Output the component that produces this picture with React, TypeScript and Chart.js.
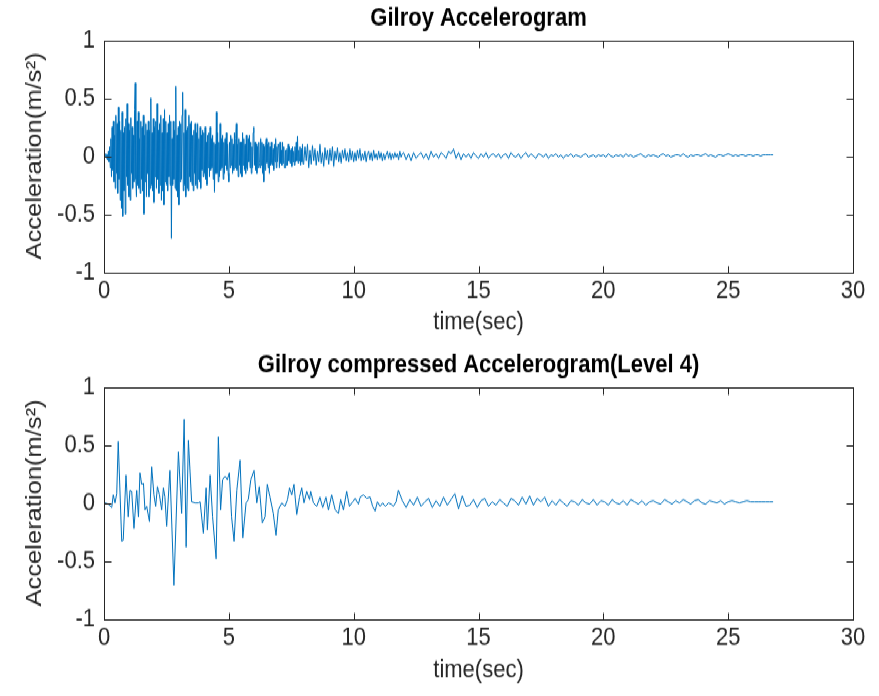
import React, { useEffect, useRef } from "react";
import { Chart, registerables } from "chart.js";

Chart.register(...registerables);

// ---------- text ----------
const TITLE_TOP = "Gilroy Accelerogram";
const TITLE_BOTTOM = "Gilroy compressed Accelerogram(Level 4)";
const X_LABEL = "time(sec)";
const Y_LABEL = "Acceleration(m/s²)";

// ---------- ticks ----------
const X_TICKS = [0, 5, 10, 15, 20, 25, 30];
const Y_TICKS = [-1, -0.5, 0, 0.5, 1];

// ---------- top series (original accelerogram) ----------
const TOP_HEAD_START = 0;
const TOP_HEAD_STEP = 0.025;
const TOP_HEAD_VALUES = [
  0.0, 0.01, -0.01, 0.02, -0.02, 0.01, -0.03, 0.04, -0.05, 0.08,
  -0.1, 0.15, -0.18, 0.25, -0.12, 0.3, -0.22, 0.18, -0.28, 0.35,
  -0.15, 0.28, -0.32, 0.42, -0.2, 0.3, -0.38, 0.22, -0.45, 0.38,
  -0.52, 0.2, -0.3, 0.25, -0.5, 0.32, -0.18, 0.45, -0.25, 0.28,
  -0.35, 0.22, -0.38, 0.33, -0.15, 0.25, -0.28, 0.18, -0.22, 0.4,
  0.63, -0.2, -0.35, 0.3, -0.25, 0.38, -0.28, 0.15, -0.32, 0.3,
  -0.2, 0.25, -0.3, 0.35, -0.5, 0.18, -0.22, 0.28, -0.35, 0.22,
  -0.15, 0.3, -0.35, 0.22, -0.28, 0.5, -0.25, 0.2, -0.3, 0.32,
  -0.4, 0.25, -0.18, 0.3, -0.28, 0.45, -0.2, 0.22, -0.32, 0.28,
  -0.25, 0.35, -0.38, 0.2, -0.3, 0.32, -0.42, 0.4, -0.22, 0.3,
  -0.25, 0.2, -0.3, 0.28, -0.18, 0.35, -0.25, 0.3, -0.71, 0.15,
  -0.25, 0.3, -0.2, 0.22, -0.28, 0.6, -0.3, 0.18, -0.35, 0.25,
  -0.42, 0.3, -0.22, 0.28, -0.2, 0.35, 0.55, -0.3, 0.2, -0.25,
  0.4, -0.35, 0.22, -0.28, 0.25, -0.3, 0.35, -0.18, 0.28, -0.22,
  0.3, -0.25, 0.18, -0.3, 0.22, -0.15, 0.28, -0.25, 0.2, -0.28,
  0.28, -0.2, 0.15, -0.22, 0.25, -0.28, 0.18, -0.12, 0.22, -0.18,
  0.2, -0.15, 0.25, -0.2, 0.12, -0.25, 0.18, -0.1, 0.2, -0.18,
  0.25, -0.12, 0.15, -0.1, 0.18, -0.2, 0.12, -0.31, 0.1, -0.15,
  0.38, -0.15, 0.2, -0.22, 0.12, -0.18, 0.28, -0.12, 0.15, -0.1,
  0.18, -0.2, 0.12, -0.15, 0.15, -0.08, 0.2, -0.12, 0.1, -0.15,
  -0.22, 0.12, -0.1, 0.18, -0.08, 0.15, -0.15, 0.1, -0.12, 0.2,
  -0.1, 0.15, 0.28, -0.12, 0.1, -0.18, 0.15, -0.08, 0.12, -0.15,
  0.12, -0.18, 0.2, -0.08, 0.15, -0.12, 0.1, -0.15, 0.18, -0.1,
  -0.12, 0.15, -0.05, 0.18, -0.1, 0.12, -0.15, 0.08, -0.1, 0.2,
  0.25, -0.08, 0.12, -0.12, 0.1, -0.15, 0.08, -0.1, 0.12, -0.06,
  -0.1, 0.15, -0.08, 0.12, -0.15, 0.1, -0.22, 0.08, -0.12, 0.1,
  0.15, -0.06, 0.1, -0.1, 0.12, -0.15, 0.08, -0.08, 0.12, -0.06,
  -0.08, 0.06, -0.12, 0.1, -0.05, 0.15, -0.1, 0.08, -0.05, 0.1,
  0.08, -0.1, 0.12, -0.06, 0.05, -0.08, 0.12, -0.06, 0.08, -0.1,
  -0.1, 0.05, -0.08, 0.06, -0.08, 0.1, -0.04, 0.08, -0.06, 0.05,
  0.06, -0.09, 0.08, -0.05, 0.04, -0.08, 0.08, -0.05, 0.12, -0.04,
  0.17, -0.06, 0.05, -0.04, 0.08, -0.08, 0.06, -0.05, 0.1, -0.07,
];
const TOP_MID_START = 8;
const TOP_MID_STEP = 0.05;
const TOP_MID_VALUES = [
  -0.06, 0.08, -0.04, 0.1, -0.1, 0.05, -0.07, 0.09, -0.04, 0.06,
  -0.08, 0.04, -0.05, 0.1, -0.06, 0.03, -0.09, 0.07, -0.03, 0.05,
  -0.07, 0.06, -0.04, 0.08, -0.09, 0.04, -0.03, 0.07, -0.05, 0.03,
  -0.06, 0.05, -0.02, 0.06, -0.04, 0.03, -0.05, 0.06, -0.03, 0.04,
  -0.05, 0.03, -0.04, 0.05, -0.02, 0.06, -0.04, 0.02, -0.03, 0.04,
  -0.05, 0.02, 0.04, -0.03, 0.03, -0.04, 0.05, -0.02, 0.02, -0.03,
  0.04, -0.02, 0.03, -0.04, 0.02, -0.03, 0.01, 0.04, -0.02, 0.03,
  -0.03, 0.02, -0.02, 0.03, -0.01, 0.02, -0.03, 0.04, -0.01, 0.02,
];
const TOP_TAIL_START = 12;
const TOP_TAIL_STEP = 0.1;
const TOP_TAIL_VALUES = [
  0.03, -0.03, 0.02, -0.04, 0.03, -0.02, 0.01, 0.03, -0.02, 0.02,
  -0.03, 0.04, -0.01, 0.02, -0.02, 0.03, 0.01, -0.02, 0.04, 0.02,
  0.06, -0.02, 0.03, -0.03, 0.02, -0.01, 0.02, -0.02, 0.03, 0.0,
  -0.02, 0.02, -0.01, 0.03, -0.02, 0.01, 0.02, -0.01, 0.02, -0.02,
  0.01, 0.02, -0.02, 0.03, 0.0, -0.01, 0.02, -0.02, 0.01, 0.03,
  -0.01, 0.02, 0.0, -0.02, 0.02, 0.01, -0.01, 0.02, -0.02, 0.01,
  0.0, 0.02, -0.01, 0.01, -0.02, 0.01, 0.0, 0.02, -0.01, 0.01,
  0.0, -0.01, 0.01, 0.02, -0.01, 0.0, 0.01, -0.01, 0.01, 0.0,
  0.01, -0.01, 0.02, 0.0, -0.01, 0.01, 0.0, 0.01, -0.01, 0.02,
  0.0, 0.01, -0.01, 0.0, 0.01, 0.02, 0.0, -0.01, 0.01, 0.0,
  0.01, 0.0, -0.01, 0.01, 0.02, 0.0, 0.01, -0.01, 0.0, 0.01,
  0.01, 0.0, 0.02, 0.0, -0.01, 0.01, 0.0, 0.01, 0.01, 0.0,
  0.01, 0.02, 0.0, 0.01, 0.0, -0.01, 0.01, 0.01, 0.0, 0.01,
  0.02, 0.01, 0.0, 0.01, 0.0, 0.01, 0.01, 0.0, 0.01, 0.01,
  0.0, 0.01, 0.01, 0.0, 0.01, 0.01, 0.01, 0.01, 0.01,
];

// ---------- bottom series (compressed, level 4) ----------
const BOTTOM_HEAD_TIMES = [
  0.04, 0.17, 0.31, 0.37, 0.44, 0.51, 0.57, 0.71, 0.77, 0.88,
  0.97, 1.04, 1.11, 1.2, 1.31, 1.38, 1.44, 1.51, 1.58, 1.64,
  1.71, 1.82, 1.91, 2.0, 2.07, 2.14, 2.22, 2.31, 2.38, 2.44,
  2.51, 2.64, 2.8, 2.98, 3.11, 3.21, 3.29, 3.38, 3.51, 3.65,
  3.78, 3.85, 3.98, 4.09, 4.14, 4.25, 4.35, 4.49, 4.58, 4.67,
  4.75, 4.85, 4.94, 5.02, 5.11, 5.21, 5.32, 5.45, 5.56, 5.69,
  5.78, 5.88, 6.01, 6.12, 6.22, 6.34, 6.45, 6.54, 6.65, 6.78,
  6.89, 6.98, 7.12, 7.25, 7.35, 7.43, 7.52, 7.61, 7.72, 7.83,
  7.92, 8.01, 8.12, 8.23, 8.28, 8.39, 8.52, 8.65, 8.76, 8.89,
  8.99, 9.12, 9.26, 9.39, 9.48, 9.59, 9.72, 9.83, 9.96, 10.06,
  10.19, 10.26, 10.39, 10.52, 10.66, 10.76, 10.86, 10.95, 11.06, 11.16,
  11.27, 11.39, 11.5, 11.59, 11.7, 11.79,
];
const BOTTOM_HEAD_VALUES = [
  0.0, -0.01, -0.04, 0.07, 0.0, 0.08, 0.53, -0.33, -0.32, 0.24,
  -0.12, 0.11, 0.1, -0.22, 0.11, -0.12, 0.26, 0.16, 0.17, -0.06,
  -0.03, -0.16, 0.31, 0.07, -0.03, 0.14, 0.07, -0.06, 0.13, 0.05,
  -0.2, 0.28, -0.71, 0.44, -0.09, 0.72, -0.38, 0.54, 0.01, 0.0,
  0.0, 0.01, -0.26, 0.13, -0.23, 0.24, -0.12, -0.48, 0.57, -0.06,
  0.2, 0.23, 0.2, 0.26, -0.12, -0.33, 0.11, 0.37, -0.3, 0.0,
  0.03, 0.2, 0.28, 0.0, 0.14, -0.17, -0.12, 0.16, 0.05, -0.09,
  -0.28, -0.06, 0.0, -0.03, 0.03, 0.13, 0.07, 0.16, -0.1, 0.05,
  0.13, 0.0, 0.1, 0.03, 0.1, 0.0, -0.03, 0.05, -0.04, 0.05,
  -0.06, 0.07, -0.06, -0.09, 0.03, -0.06, 0.1, -0.03, 0.01, 0.04,
  -0.01, 0.05, 0.07, 0.04, 0.05, -0.03, -0.07, 0.01, -0.03, 0.0,
  -0.03, 0.0, -0.01, -0.03, 0.01, 0.11,
];
const BOTTOM_TAIL_START = 11.95;
const BOTTOM_TAIL_STEP = 0.15;
const BOTTOM_TAIL_VALUES = [
  0.02, -0.04, 0.03, -0.02, 0.05, -0.03, 0.01, 0.04, -0.04, 0.02,
  -0.03, 0.05, -0.02, 0.03, 0.08, -0.05, 0.06, -0.03, -0.02, 0.03,
  -0.04, 0.02, 0.04, -0.03, 0.01, -0.02, 0.03, 0.0, -0.03, 0.04,
  0.02, -0.02, 0.05, -0.01, 0.06, -0.02, 0.04, 0.01, 0.05, -0.03,
  0.02, -0.02, 0.03, 0.0, -0.03, 0.02, 0.01, -0.02, 0.03, 0.0,
  -0.01, 0.03, -0.02, 0.02, 0.01, -0.02, 0.03, 0.0, -0.01, 0.02,
  -0.02, 0.03, 0.01, -0.01, 0.02, -0.02, 0.01, 0.02, 0.0, -0.01,
  0.03, 0.01, -0.01, 0.02, 0.0, 0.03, 0.01, -0.01, 0.02, 0.03,
  0.0, -0.01, 0.02, 0.01, 0.0, 0.02, -0.01, 0.01, 0.02, 0.01,
  0.0, 0.01, 0.02, 0.01, 0.01, 0.01, 0.01, 0.01, 0.01, 0.01,
];

// ---------- style ----------
const LINE_COLOR = "#0072BD";
const AXIS_COLOR = "#262626";
const FONT_FAMILY = "'Liberation Sans', Arial, sans-serif";
const STRETCH_Y = 1.16; // the reference figure is taller than it is wide

function uniformPoints(start: number, step: number, values: number[]) {
  return values.map((v, i) => ({ x: +(start + i * step).toFixed(4), y: v }));
}

function topData() {
  return [
    ...uniformPoints(TOP_HEAD_START, TOP_HEAD_STEP, TOP_HEAD_VALUES),
    ...uniformPoints(TOP_MID_START, TOP_MID_STEP, TOP_MID_VALUES),
    ...uniformPoints(TOP_TAIL_START, TOP_TAIL_STEP, TOP_TAIL_VALUES),
  ];
}

function bottomData() {
  return [
    ...BOTTOM_HEAD_TIMES.map((t, i) => ({ x: t, y: BOTTOM_HEAD_VALUES[i] })),
    ...uniformPoints(BOTTOM_TAIL_START, BOTTOM_TAIL_STEP, BOTTOM_TAIL_VALUES),
  ];
}

const matlabBox = {
  id: "matlabBox",
  afterDraw(chart: any) {
    const { ctx, chartArea: a, scales } = chart;
    const LX = 6;
    const LY = 7;
    ctx.save();
    ctx.strokeStyle = AXIS_COLOR;
    ctx.lineWidth = 1;
    const l = Math.round(a.left) + 0.5;
    const r = Math.round(a.right) + 0.5;
    const t = Math.round(a.top) + 0.5;
    const b = Math.round(a.bottom) + 0.5;
    ctx.strokeRect(l, t, r - l, b - t);
    ctx.beginPath();
    for (const v of X_TICKS) {
      const x = Math.round(scales.x.getPixelForValue(v)) + 0.5;
      ctx.moveTo(x, b);
      ctx.lineTo(x, b - LX);
      ctx.moveTo(x, t);
      ctx.lineTo(x, t + LX);
    }
    for (const v of Y_TICKS) {
      const y = Math.round(scales.y.getPixelForValue(v)) + 0.5;
      ctx.moveTo(l, y);
      ctx.lineTo(l + LY, y);
      ctx.moveTo(r, y);
      ctx.lineTo(r - LY, y);
    }
    ctx.stroke();
    ctx.restore();
  },
};

function makeConfig(points: any[], title: string, padTop: number, padBottom: number, xHeight: number) {
  return {
    type: "line" as const,
    data: {
      datasets: [
        {
          data: points,
          borderColor: LINE_COLOR,
          borderWidth: 1,
          pointRadius: 0,
          tension: 0,
          fill: false,
        },
      ],
    },
    options: {
      animation: false,
      responsive: false,
      layout: { padding: { left: 0, right: 26, top: 0, bottom: 0 } },
      plugins: {
        legend: { display: false },
        tooltip: { enabled: false },
        title: {
          display: true,
          fullSize: false,
          text: title,
          color: "#000000",
          font: { family: FONT_FAMILY, size: 22, weight: "bold", lineHeight: 1.2 },
          padding: { top: padTop, bottom: padBottom },
        },
      },
      scales: {
        x: {
          type: "linear",
          min: 0,
          max: 30,
          afterFit: (s: any) => {
            s.height = xHeight;
          },
          afterBuildTicks: (s: any) => {
            s.ticks = X_TICKS.map((v) => ({ value: v }));
          },
          grid: { display: false, drawTicks: false },
          border: { display: false },
          ticks: {
            color: AXIS_COLOR,
            padding: 3.5,
            maxRotation: 0,
            autoSkip: false,
            font: { family: FONT_FAMILY, size: 22 },
            callback: (v: number) => String(v),
          },
          title: {
            display: true,
            text: X_LABEL,
            color: AXIS_COLOR,
            font: { family: FONT_FAMILY, size: 22, lineHeight: 1.2 },
            padding: { top: 0, bottom: 9.2 },
          },
        },
        y: {
          type: "linear",
          min: -1,
          max: 1,
          afterFit: (s: any) => {
            s.width = 104;
          },
          afterBuildTicks: (s: any) => {
            s.ticks = Y_TICKS.map((v) => ({ value: v }));
          },
          grid: { display: false, drawTicks: false },
          border: { display: false },
          ticks: {
            color: AXIS_COLOR,
            padding: 9,
            autoSkip: false,
            font: { family: FONT_FAMILY, size: 22 },
            callback: (v: number) => String(v),
          },
          title: {
            display: true,
            text: Y_LABEL,
            color: AXIS_COLOR,
            font: { family: FONT_FAMILY, size: 22, lineHeight: 1.2 },
            padding: { top: 21.8, bottom: 0 },
          },
        },
      },
    },
    plugins: [matlabBox],
  };
}

const LOGICAL_H = 300; // 348 / STRETCH_Y

export default function App() {
  const topRef = useRef<HTMLCanvasElement | null>(null);
  const bottomRef = useRef<HTMLCanvasElement | null>(null);

  useEffect(() => {
    const c1 = new Chart(
      topRef.current as HTMLCanvasElement,
      makeConfig(topData(), TITLE_TOP, 2.3, 5.8, 65.5) as any
    );
    const c2 = new Chart(
      bottomRef.current as HTMLCanvasElement,
      makeConfig(bottomData(), TITLE_BOTTOM, 1.5, 5.7, 66.4) as any
    );
    return () => {
      c1.destroy();
      c2.destroy();
    };
  }, []);

  return (
    <div
      style={{
        position: "absolute",
        left: 0,
        top: 0,
        width: 879,
        height: LOGICAL_H * 2,
        background: "#ffffff",
        transform: `scaleY(${STRETCH_Y})`,
        transformOrigin: "top left",
      }}
    >
      <canvas
        ref={topRef}
        width={879}
        height={LOGICAL_H}
        style={{ position: "absolute", left: 0, top: 0, width: 879, height: LOGICAL_H, display: "block" }}
      />
      <canvas
        ref={bottomRef}
        width={879}
        height={LOGICAL_H}
        style={{ position: "absolute", left: 0, top: LOGICAL_H, width: 879, height: LOGICAL_H, display: "block" }}
      />
    </div>
  );
}
